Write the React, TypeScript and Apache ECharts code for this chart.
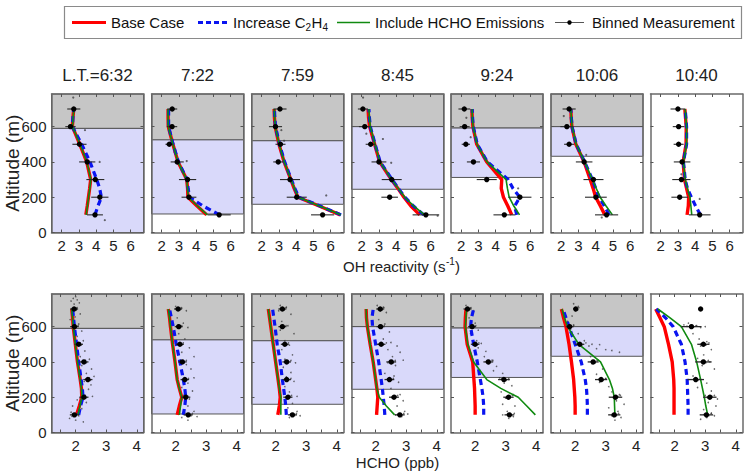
import React, { useEffect, useRef } from "react";
import * as echarts from "echarts";

const FONT = "'Liberation Sans', Arial, Helvetica, sans-serif";

// ---------- data ----------
const TIMES = ["L.T.=6:32", "7:22", "7:59", "8:45", "9:24", "10:06", "10:40"];
const MEAS_ALT = [100, 200, 300, 400, 500, 600, 700];
const MODEL_ALT = [100, 150, 200, 250, 300, 400, 500, 600, 650, 700];
const GRAY_FROM: (number | null)[] = [590, 525, 520, 600, 592, 600, null];
const LAV_FROM: (number | null)[] = [0, 105, 160, 245, 312, 432, null];
const Y_MAX = 785;
const Y_TICKS = [0, 200, 400, 600];

// OH reactivity (s-1)
const OH_BASE = [
  [3.4, 3.48, 3.55, 3.62, 3.68, 3.45, 3.05, 2.62, 2.65, 2.7],
  [4.6, 4.05, 3.52, 3.5, 3.45, 2.95, 2.65, 2.38, 2.37, 2.37],
  [6.55, 5.33, 4.1, 3.88, 3.69, 3.3, 3.0, 2.78, 2.74, 2.72],
  [5.36, 4.85, 4.45, 4.1, 3.72, 3.04, 2.75, 2.46, 2.4, 2.37],
  [4.93, 4.7, 4.45, 4.32, 4.35, 3.48, 2.9, 2.68, 2.64, 2.62],
  [4.53, 4.27, 4.0, 3.85, 3.68, 3.33, 2.85, 2.62, 2.58, 2.56],
  [3.53, 3.6, 3.62, 3.5, 3.38, 3.3, 3.47, 3.48, 3.44, 3.4],
];
const OH_C2H4 = [
  [3.93, 4.1, 4.3, 4.2, 4.03, 3.64, 3.16, 2.62, 2.65, 2.7],
  [5.35, 4.4, 3.62, 3.53, 3.47, 2.97, 2.66, 2.4, 2.4, 2.4],
  [6.6, 5.38, 4.15, 3.92, 3.72, 3.33, 3.03, 2.8, 2.76, 2.74],
  [5.6, 5.0, 4.5, 4.13, 3.76, 3.07, 2.78, 2.5, 2.45, 2.42],
  [5.22, 5.1, 5.4, 5.0, 4.72, 3.52, 2.93, 2.7, 2.66, 2.64],
  [4.78, 4.5, 4.2, 4.0, 3.81, 3.36, 2.87, 2.63, 2.59, 2.56],
  [4.3, 4.02, 3.78, 3.55, 3.42, 3.32, 3.5, 3.5, 3.46, 3.42],
];
const OH_HCHO = [
  [3.42, 3.49, 3.56, 3.63, 3.69, 3.46, 3.06, 2.63, 2.66, 2.71],
  [4.65, 4.08, 3.54, 3.5, 3.45, 2.95, 2.65, 2.38, 2.37, 2.37],
  [6.58, 5.35, 4.12, 3.9, 3.7, 3.31, 3.01, 2.79, 2.75, 2.73],
  [5.65, 5.02, 4.5, 4.12, 3.74, 3.06, 2.77, 2.5, 2.45, 2.42],
  [5.38, 5.05, 4.78, 4.68, 4.6, 3.5, 2.92, 2.69, 2.65, 2.63],
  [4.97, 4.6, 4.26, 4.03, 3.81, 3.36, 2.87, 2.63, 2.59, 2.56],
  [3.8, 3.75, 3.7, 3.55, 3.42, 3.32, 3.5, 3.5, 3.46, 3.42],
];
const OH_MEAS = [
  [3.93, 4.21, 3.95, 3.48, 3.03, 2.51, 2.7],
  [5.33, 3.58, 3.5, 2.9, 2.44, 2.6, 2.61],
  [5.53, 4.03, 3.64, 2.96, 3.09, 2.8, 3.06],
  [5.72, 3.62, 3.74, 3.0, 2.52, 2.18, 2.07],
  [4.5, 5.4, 3.48, 2.71, 2.27, 2.2, 2.18],
  [4.63, 4.01, 3.87, 3.33, 2.46, 2.33, 2.46],
  [4.26, 3.1, 3.2, 3.24, 3.04, 3.04, 3.0],
];
const OH_ERR = [
  [0.46, 0.5, 0.52, 0.47, 0.41, 0.3, 0.38],
  [0.67, 0.43, 0.5, 0.38, 0.22, 0.3, 0.29],
  [0.67, 0.58, 0.58, 0.29, 0.29, 0.38, 0.38],
  [0.77, 0.48, 0.58, 0.43, 0.29, 0.34, 0.29],
  [0.63, 0.67, 0.58, 0.38, 0.24, 0.29, 0.34],
  [0.67, 0.63, 0.58, 0.48, 0.29, 0.38, 0.38],
  [0.63, 0.48, 0.53, 0.48, 0.29, 0.34, 0.43],
];
const OH_RAW = [
  [[2.67, 765], [3.35, 580], [4.2, 400], [4.5, 70]],
  [[2.75, 455], [3.45, 405]],
  [[3.14, 580], [3.3, 520], [5.74, 210]],
  [[2.08, 765], [2.27, 560], [3.23, 530], [3.71, 395], [6.4, 95]],
  [[2.3, 650], [2.55, 540], [5.3, 250]],
  [[2.15, 660], [3.45, 440], [4.35, 85]],
  [[4.26, 190], [3.2, 330]],
];

// HCHO (ppb)
const HCHO_BASE = [
  [2.03, 2.12, 2.2, 2.19, 2.15, 2.06, 1.99, 1.92, 1.9, 1.87],
  [2.05, 2.12, 2.2, 2.12, 2.05, 1.98, 1.9, 1.83, 1.8, 1.76],
  [2.07, 2.12, 2.15, 2.12, 2.08, 2.0, 1.92, 1.84, 1.8, 1.76],
  [2.03, 2.05, 2.07, 2.04, 2.0, 1.92, 1.82, 1.73, 1.7, 1.69],
  [2.0, 2.0, 1.99, 1.98, 1.96, 1.92, 1.74, 1.67, 1.68, 1.7],
  [2.0, 2.0, 1.99, 1.97, 1.95, 1.88, 1.8, 1.7, 1.62, 1.55],
  [1.98, 1.98, 1.98, 1.98, 1.97, 1.92, 1.8, 1.66, 1.52, 1.38],
];
const HCHO_C2H4 = [
  [2.1, 2.16, 2.24, 2.22, 2.18, 2.1, 2.03, 1.96, 1.93, 1.9],
  [2.25, 2.3, 2.33, 2.3, 2.25, 2.14, 2.02, 1.92, 1.86, 1.8],
  [2.35, 2.33, 2.3, 2.26, 2.22, 2.15, 2.05, 1.98, 1.94, 1.9],
  [2.3, 2.28, 2.25, 2.22, 2.18, 2.1, 2.0, 1.9, 1.88, 1.92],
  [2.28, 2.28, 2.26, 2.22, 2.17, 2.07, 1.95, 1.85, 1.88, 1.95],
  [2.4, 2.4, 2.39, 2.37, 2.33, 2.2, 2.0, 1.8, 1.7, 1.6],
  [2.44, 2.44, 2.43, 2.42, 2.41, 2.34, 2.22, 1.95, 1.7, 1.4],
];
const HCHO_HCHO = [
  [2.08, 2.14, 2.21, 2.19, 2.15, 2.06, 1.99, 1.92, 1.9, 1.87],
  [2.12, 2.16, 2.2, 2.12, 2.05, 1.98, 1.9, 1.83, 1.8, 1.76],
  [2.17, 2.17, 2.17, 2.12, 2.08, 2.0, 1.92, 1.84, 1.8, 1.76],
  [2.62, 2.35, 2.12, 2.04, 2.0, 1.92, 1.82, 1.73, 1.7, 1.69],
  [3.97, 3.69, 3.41, 2.84, 2.38, 1.95, 1.76, 1.68, 1.7, 1.72],
  [3.3, 3.29, 3.28, 3.22, 3.12, 2.83, 2.12, 1.75, 1.65, 1.57],
  [3.08, 3.02, 2.97, 2.91, 2.85, 2.72, 2.55, 2.22, 1.85, 1.45],
];
const HCHO_MEAS = [
  [1.96, 2.27, 2.4, 2.27, 2.1, 1.96, 1.95],
  [2.41, 2.33, 2.3, 2.22, 2.14, 2.1, 2.08],
  [2.55, 2.4, 2.36, 2.36, 2.3, 2.22, 2.22],
  [2.79, 2.6, 2.45, 2.51, 2.18, 2.16, 2.15],
  [3.12, 3.09, 2.94, 2.43, 2.0, 1.9, 1.75],
  [3.28, 3.32, 2.85, 2.59, 2.15, 1.82, 2.02],
  [3.04, 3.15, 2.69, 2.94, 2.94, 2.55, 2.85],
];
const HCHO_ERR = [
  [0.15, 0.15, 0.15, 0.15, 0.14, 0.14, 0.13],
  [0.15, 0.15, 0.14, 0.14, 0.13, 0.13, 0.13],
  [0.15, 0.15, 0.14, 0.14, 0.13, 0.13, 0.13],
  [0.16, 0.16, 0.16, 0.16, 0.14, 0.13, 0.13],
  [0.16, 0.17, 0.19, 0.16, 0.14, 0.13, 0.13],
  [0.2, 0.22, 0.2, 0.18, 0.15, 0.13, 0.0],
  [0.22, 0.22, 0.27, 0.27, 0.2, 0.33, 0.0],
];
const HCHO_RAW = [
  [[1.85, 745], [2.05, 752], [1.95, 728], [2.12, 735], [1.9, 690], [2.02, 705], [2.15, 672], [1.82, 640], [1.98, 655], [2.1, 615], [1.88, 590], [2.2, 575], [2.05, 545], [2.25, 520], [1.98, 480], [2.3, 462], [2.15, 430], [2.45, 415], [2.2, 380], [2.52, 360], [2.35, 335], [2.6, 318], [2.28, 290], [2.5, 270], [2.42, 245], [2.18, 225], [2.55, 205], [2.05, 185], [2.35, 170], [1.9, 150], [2.2, 135], [1.85, 115], [2.1, 95], [1.8, 80], [2.0, 70], [2.25, 60],
   [1.9, 105], [2.02, 98], [1.88, 92], [2.08, 110], [2.2, 205], [2.35, 198], [2.3, 212], [2.15, 195], [2.33, 302], [2.48, 296], [2.45, 310], [2.2, 402], [2.35, 396], [2.32, 408], [2.05, 502], [2.18, 496], [2.15, 508], [1.9, 602], [2.02, 598], [2.08, 606], [1.88, 702], [2.02, 696], [2.05, 708], [1.92, 760], [2.0, 770]],
  [[2.0, 715], [2.2, 705], [2.35, 690], [2.05, 650], [2.25, 620], [2.4, 595], [2.1, 560], [2.3, 530], [2.0, 505], [2.45, 480], [2.2, 455], [2.6, 430], [2.15, 410], [2.35, 385], [2.5, 360], [2.25, 330], [2.6, 310], [2.4, 280], [2.2, 255], [2.55, 235], [2.3, 215], [2.45, 190], [2.15, 170], [2.4, 150], [2.6, 120], [2.3, 110], [2.5, 95], [2.2, 85], [2.7, 90], [2.4, 70],
   [2.35, 102], [2.48, 96], [2.55, 108], [2.28, 198], [2.4, 204], [2.25, 210], [2.24, 302], [2.36, 296], [2.42, 306], [2.16, 402], [2.28, 396], [2.35, 408], [2.08, 502], [2.2, 496], [2.25, 508], [2.04, 602], [2.16, 598], [2.2, 606], [2.02, 702], [2.14, 696], [2.18, 708]],
  [[2.15, 720], [2.35, 710], [2.1, 690], [2.5, 670], [2.2, 630], [2.4, 605], [2.15, 580], [2.6, 560], [2.3, 520], [2.45, 495], [2.2, 470], [2.55, 440], [2.3, 415], [2.65, 395], [2.25, 370], [2.5, 340], [2.35, 315], [2.6, 290], [2.3, 260], [2.45, 230], [2.7, 205], [2.35, 190], [2.55, 165], [2.4, 140], [2.7, 120], [2.5, 105], [2.8, 95], [2.45, 85],
   [2.48, 102], [2.62, 96], [2.68, 108], [2.33, 198], [2.47, 204], [2.52, 210], [2.3, 302], [2.42, 296], [2.5, 306], [2.3, 402], [2.42, 396], [2.5, 408], [2.24, 502], [2.36, 496], [2.42, 508], [2.16, 602], [2.28, 598], [2.34, 606], [2.16, 702], [2.28, 696], [2.34, 708]],
  [[2.05, 720], [2.25, 710], [2.15, 690], [2.35, 680], [2.1, 640], [2.3, 615], [2.2, 590], [2.45, 570], [2.25, 530], [2.5, 510], [2.7, 490], [2.4, 470], [2.8, 455], [2.55, 430], [2.9, 410], [2.4, 395], [2.65, 380], [2.3, 335], [2.6, 320], [2.45, 300], [2.75, 285], [2.5, 250], [2.8, 215], [2.55, 200], [2.9, 180], [2.7, 150], [2.95, 120], [2.65, 100], [2.85, 90], [3.05, 105],
   [2.72, 102], [2.86, 96], [2.92, 108], [2.53, 198], [2.67, 204], [2.72, 210], [2.38, 302], [2.52, 296], [2.58, 306], [2.44, 402], [2.58, 396], [2.64, 408], [2.12, 502], [2.24, 496], [2.35, 508], [2.1, 602], [2.22, 598], [2.28, 606], [2.09, 702], [2.21, 696], [2.27, 708]],
  [[1.7, 720], [1.85, 705], [1.95, 690], [1.8, 650], [2.0, 620], [1.9, 600], [2.1, 580], [1.85, 560], [2.05, 520], [2.2, 505], [2.1, 480], [2.35, 460], [2.3, 430], [2.55, 410], [2.45, 390], [2.7, 375], [2.6, 350], [2.9, 335], [2.8, 310], [3.1, 300], [2.95, 280], [3.2, 265], [2.85, 230], [3.25, 215], [3.0, 195], [2.9, 160], [3.3, 150], [3.05, 120], [2.9, 100], [3.25, 90], [3.1, 80],
   [3.05, 102], [3.2, 96], [3.28, 108], [3.0, 198], [3.15, 204], [3.22, 210], [2.86, 302], [3.02, 296], [3.1, 306], [2.36, 402], [2.5, 396], [2.58, 408], [1.94, 502], [2.06, 496], [2.12, 508], [1.84, 602], [1.96, 598], [2.02, 606], [1.7, 702], [1.8, 696], [1.86, 708]],
  [[1.95, 730], [2.1, 715], [2.0, 690], [1.9, 660], [1.75, 630], [1.95, 610], [1.85, 585], [2.1, 560], [2.3, 520], [2.0, 505], [2.45, 490], [2.7, 475], [3.0, 470], [3.2, 465], [3.45, 455], [2.5, 430], [2.75, 410], [2.55, 390], [2.9, 360], [2.7, 330], [3.0, 305], [2.8, 285], [3.1, 260], [3.2, 230], [3.45, 215], [3.35, 180], [3.6, 160], [3.1, 140], [3.4, 120], [3.2, 95], [3.5, 85], [3.3, 70],
   [3.2, 102], [3.35, 96], [3.42, 108], [3.24, 198], [3.4, 204], [3.48, 210], [2.78, 302], [2.92, 296], [3.0, 306], [2.52, 402], [2.66, 396], [2.72, 408], [2.08, 502], [2.22, 496], [2.35, 508], [2.55, 500], [2.8, 498], [1.76, 602], [1.88, 598], [1.95, 606], [1.96, 702], [2.08, 696], [2.12, 708]],
  [[2.3, 610], [2.45, 620], [2.7, 605], [2.85, 595], [3.0, 600], [2.6, 560], [2.8, 530], [3.05, 515], [2.85, 490], [3.2, 470], [2.95, 440], [2.75, 420], [3.15, 400], [2.9, 380], [3.3, 360], [2.6, 320], [2.85, 300], [3.05, 280], [2.75, 255], [3.2, 235], [3.0, 210], [3.4, 190], [3.1, 170], [3.35, 150], [2.95, 130], [3.2, 110], [3.05, 85], [2.85, 75], [3.3, 95],
   [2.96, 102], [3.12, 96], [3.2, 108], [3.07, 198], [3.22, 204], [3.3, 210], [2.62, 302], [2.76, 296], [2.84, 306], [2.86, 402], [3.02, 396], [3.1, 408], [2.86, 502], [3.02, 496], [3.12, 508], [2.4, 602], [2.62, 598], [2.72, 606], [2.2, 600]],
];

const OH_X_TICKS = [2, 3, 4, 5, 6];
const OH_X_LABELS = [2, 3, 4, 5, 6];
const HCHO_X_TICKS = [1.5, 2, 2.5, 3, 3.5, 4];
const HCHO_X_LABELS = [2, 3, 4];

// ---------- layout ----------
const LEFTS = [51.5, 151.5, 251.5, 351.5, 451, 551, 650.5];
const TOPS = [94, 294];
const PW = 92;
const PH = 138.5;

const ROWS = [
  { xMin: 1.41, xMax: 6.74, ticks: OH_X_TICKS, labels: OH_X_LABELS, base: OH_BASE, c2h4: OH_C2H4, hcho: OH_HCHO, meas: OH_MEAS, err: OH_ERR, raw: OH_RAW, rawSize: 2.2, errW: 1.1 },
  { xMin: 1.21, xMax: 4.22, ticks: HCHO_X_TICKS, labels: HCHO_X_LABELS, base: HCHO_BASE, c2h4: HCHO_C2H4, hcho: HCHO_HCHO, meas: HCHO_MEAS, err: HCHO_ERR, raw: HCHO_RAW, rawSize: 1.6, errW: 1.3 },
];

function buildOption() {
  const grid: any[] = [];
  const xAxis: any[] = [];
  const yAxis: any[] = [];
  const series: any[] = [];
  const graphic: any[] = [];
  const frameLine = { show: true, onZero: false, lineStyle: { color: "#6a6a6a", width: 1.5 } };
  const tick = (vals: number[]) => ({ show: true, inside: true, length: 3, customValues: vals, lineStyle: { color: "#555", width: 1 } });
  const labelStyle = { fontSize: 15, color: "#222", fontFamily: FONT, margin: 5 };

  ROWS.forEach((row, r) => {
    for (let p = 0; p < 7; p++) {
      const idx = r * 7 + p;
      grid.push({ left: LEFTS[p], top: TOPS[r], width: PW, height: PH });
      xAxis.push({ type: "value", gridIndex: idx, position: "bottom", min: row.xMin, max: row.xMax, axisLine: frameLine, axisTick: tick(row.ticks), axisLabel: { ...labelStyle, customValues: row.labels }, splitLine: { show: false }, z: 10 });
      xAxis.push({ type: "value", gridIndex: idx, position: "top", min: row.xMin, max: row.xMax, axisLine: frameLine, axisTick: tick(row.ticks), axisLabel: { show: false }, splitLine: { show: false }, z: 10 });
      yAxis.push({ type: "value", gridIndex: idx, position: "left", min: 0, max: Y_MAX, axisLine: frameLine, axisTick: tick(Y_TICKS), axisLabel: { ...labelStyle, show: p === 0, customValues: Y_TICKS }, splitLine: { show: false }, z: 10 });
      yAxis.push({ type: "value", gridIndex: idx, position: "right", min: 0, max: Y_MAX, axisLine: frameLine, axisTick: tick(Y_TICKS), axisLabel: { show: false }, splitLine: { show: false }, z: 10 });

      const areas: any[] = [];
      const g = GRAY_FROM[p];
      const l = LAV_FROM[p];
      if (g != null) areas.push([{ yAxis: g, itemStyle: { color: "#c6c6c6" } }, { yAxis: Y_MAX }]);
      if (l != null && g != null) areas.push([{ yAxis: l, itemStyle: { color: "#d9d9fa" } }, { yAxis: g }]);

      const xi = idx * 2;
      const yi = idx * 2;
      series.push({
        type: "scatter", xAxisIndex: xi, yAxisIndex: yi, silent: true,
        data: row.raw[p], symbolSize: row.rawSize,
        itemStyle: { color: "#3a3a3a", opacity: 0.75 },
        markArea: { silent: true, label: { show: false }, itemStyle: { borderColor: "#555", borderWidth: 1 }, data: areas },
        z: 2,
      });
      const mk = (vals: number[], color: string, width: number, type: any, z: number) => ({
        type: "line", xAxisIndex: xi, yAxisIndex: yi, silent: true, showSymbol: false, symbol: "none",
        data: MODEL_ALT.map((a, i) => [vals[i], a]),
        lineStyle: { color, width, type }, z,
      });
      series.push(mk(row.base[p], "#ff0000", 3.4, "solid", 3));
      series.push(mk(row.c2h4[p], "#0a14f0", 3.2, [6, 4], 4));
      series.push(mk(row.hcho[p], "#108a10", 1.6, "solid", 5));
      const errW = row.errW;
      series.push({
        type: "custom", xAxisIndex: xi, yAxisIndex: yi, silent: true, z: 6,
        data: MEAS_ALT.map((a, i) => [row.meas[p][i], a, row.err[p][i]]),
        encode: { x: 0, y: 1 },
        renderItem: (_params: any, api: any) => {
          const x = api.value(0);
          const y = api.value(1);
          const e = api.value(2);
          const c = api.coord([x, y]);
          const children: any[] = [];
          if (e > 0) {
            const a = api.coord([x - e, y]);
            const b = api.coord([x + e, y]);
            children.push({ type: "line", shape: { x1: a[0], y1: a[1], x2: b[0], y2: b[1] }, style: { stroke: "#2a2a2a", lineWidth: errW } });
          }
          children.push({ type: "circle", shape: { cx: c[0], cy: c[1], r: 2.7 }, style: { fill: "#000" } });
          return { type: "group", children };
        },
      });
    }
  });

  // titles
  TIMES.forEach((t, p) => {
    graphic.push({ type: "text", x: LEFTS[p] + PW / 2, y: 75, style: { text: t, fill: "#222", fontSize: 17, fontFamily: FONT, textAlign: "center", textVerticalAlign: "middle" } });
  });
  // y labels
  TOPS.forEach((top) => {
    graphic.push({ type: "text", x: 12, y: top + PH / 2, rotation: Math.PI / 2, style: { text: "Altitude (m)", fill: "#222", fontSize: 19, fontFamily: FONT, textAlign: "center", textVerticalAlign: "middle" } });
  });
  // x labels
  const cx = LEFTS[3] + PW / 2;
  const endX = cx + 48;
  graphic.push({ type: "text", x: endX, y: 266, style: { text: "OH reactivity (s", fill: "#222", fontSize: 15, fontFamily: FONT, textAlign: "right", textVerticalAlign: "middle" } });
  graphic.push({ type: "text", x: endX + 0.5, y: 261, style: { text: "-1", fill: "#222", fontSize: 10, fontFamily: FONT, textAlign: "left", textVerticalAlign: "middle" } });
  graphic.push({ type: "text", x: endX + 9.5, y: 266, style: { text: ")", fill: "#222", fontSize: 15, fontFamily: FONT, textAlign: "left", textVerticalAlign: "middle" } });
  graphic.push({ type: "text", x: cx, y: 462, style: { text: "HCHO (ppb)", fill: "#222", fontSize: 15, fontFamily: FONT, textAlign: "center", textVerticalAlign: "middle" } });

  // legend
  const ly = 22.5;
  const lt = (text: string, x: number, size = 15, dy = 0) => ({ type: "text", x, y: ly + dy, z: 101, style: { text, fill: "#111", fontSize: size, fontFamily: FONT, textAlign: "left", textVerticalAlign: "middle" } });
  graphic.push({ type: "rect", shape: { x: 64.5, y: 6.5, width: 677, height: 32 }, z: 100, style: { fill: "#fff", stroke: "#8a8a8a", lineWidth: 1.2 } });
  graphic.push({ type: "line", z: 101, shape: { x1: 72, y1: ly, x2: 106, y2: ly }, style: { stroke: "#ff0000", lineWidth: 3 } });
  graphic.push(lt("Base Case", 111));
  graphic.push({ type: "line", z: 101, shape: { x1: 198, y1: ly, x2: 229, y2: ly }, style: { stroke: "#0a14f0", lineWidth: 3, lineDash: [5, 3] } });
  graphic.push(lt("Increase C", 233));
  graphic.push(lt("2", 305.5, 10, 5));
  graphic.push(lt("H", 311.5));
  graphic.push(lt("4", 322.5, 10, 5));
  graphic.push({ type: "line", z: 101, shape: { x1: 337, y1: ly, x2: 370, y2: ly }, style: { stroke: "#108a10", lineWidth: 1.6 } });
  graphic.push(lt("Include HCHO Emissions", 375));
  graphic.push({ type: "line", z: 101, shape: { x1: 555, y1: ly, x2: 584, y2: ly }, style: { stroke: "#555", lineWidth: 1 } });
  graphic.push({ type: "circle", z: 102, shape: { cx: 569.5, cy: ly, r: 2.2 }, style: { fill: "#000" } });
  graphic.push(lt("Binned Measurement", 592));

  return { animation: false, backgroundColor: "#fff", grid, xAxis, yAxis, series, graphic };
}

export default function App() {
  const ref = useRef<HTMLDivElement>(null);
  useEffect(() => {
    if (!ref.current) return;
    const chart = echarts.init(ref.current, undefined, { renderer: "svg" });
    chart.setOption(buildOption() as any);
    return () => chart.dispose();
  }, []);
  return <div ref={ref} style={{ position: "fixed", left: 0, top: 0, width: 752, height: 472, background: "#fff" }} />;
}
